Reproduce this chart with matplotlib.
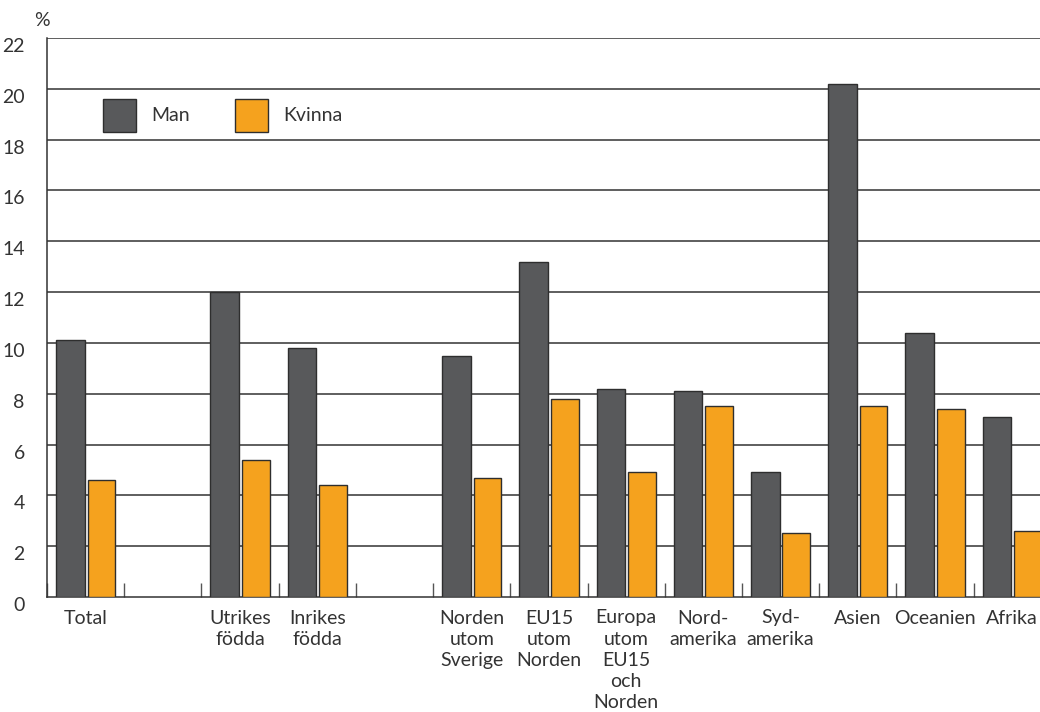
import numpy as np
import matplotlib
matplotlib.use("Agg")
import matplotlib.pyplot as plt
from matplotlib.patches import Patch

plt.rcParams["font.family"] = ["Lato", "DejaVu Sans"]

# slots on the x axis; "" marks an empty gap slot
categories = ["Total", "", "Utrikes\nfödda", "Inrikes\nfödda", "",
              "Norden\nutom\nSverige", "EU15\nutom\nNorden", "Europa\nutom\nEU15\noch\nNorden",
              "Nord-\namerika", "Syd-\namerika", "Asien", "Oceanien", "Afrika"]
man = [10.1, np.nan, 12.0, 9.8, np.nan, 9.5, 13.2, 8.2, 8.1, 4.9, 20.2, 10.4, 7.1]
kvinna = [4.6, np.nan, 5.4, 4.4, np.nan, 4.7, 7.8, 4.9, 7.5, 2.5, 7.5, 7.4, 2.6]
yticks = list(range(0, 23, 2))

C_MAN = "#58595b"
C_KV = "#f5a21e"
EDGE = "#2e2e2e"
TXT = "#333333"
FS = 14

fig = plt.figure(figsize=(10.4, 7.12), dpi=100)
ax = fig.add_axes([47/1040, 1-597/712, 1-47/1040, 559/712])

x = np.arange(len(categories))
ax.bar(x + 0.117, man, width=0.37, align="edge", color=C_MAN, edgecolor=EDGE, lw=1.0, zorder=3)
ax.bar(x + 0.525, kvinna, width=0.36, align="edge", color=C_KV, edgecolor=EDGE, lw=1.0, zorder=3)

ax.set_ylim(0, 22)
ax.set_xlim(0, 12.86)
ax.set_yticks(yticks)
ax.set_yticklabels([str(v) for v in yticks], fontsize=FS, color=TXT)
for t in ax.get_yticklabels():
    t.set_verticalalignment("top")
ax.tick_params(axis="y", length=0, pad=16)
for v in yticks[1:]:
    ax.axhline(v, color="#333333", lw=1.1, zorder=1)

ax.set_xticks(x + 0.5)
ax.set_xticklabels(categories, fontsize=FS, color=TXT, linespacing=1.3, va="top")
ax.tick_params(axis="x", length=0, pad=9)
ax.set_xticks(np.arange(0, len(categories)), minor=True)
ax.tick_params(axis="x", which="minor", direction="in", length=10, width=1.0, color="#555555")

for s in ["top", "right"]:
    ax.spines[s].set_visible(False)
for s in ["left", "bottom"]:
    ax.spines[s].set_color("#333333")
    ax.spines[s].set_linewidth(1.1)

fig.text(42/1040, 1-20/712, "%", fontsize=FS, color=TXT, ha="center", va="center")

handles = [Patch(facecolor=C_MAN, edgecolor=EDGE, label="Man"),
           Patch(facecolor=C_KV, edgecolor=EDGE, label="Kvinna")]
leg = ax.legend(handles=handles, ncol=2, frameon=False, loc="upper left",
                bbox_to_anchor=(46/993, 1-51/559), fontsize=FS, borderpad=0,
                handlelength=1.7, handleheight=2.24, handletextpad=0.8, columnspacing=2.3)
for t in leg.get_texts():
    t.set_color(TXT)

fig.savefig("out.png", dpi=100)
